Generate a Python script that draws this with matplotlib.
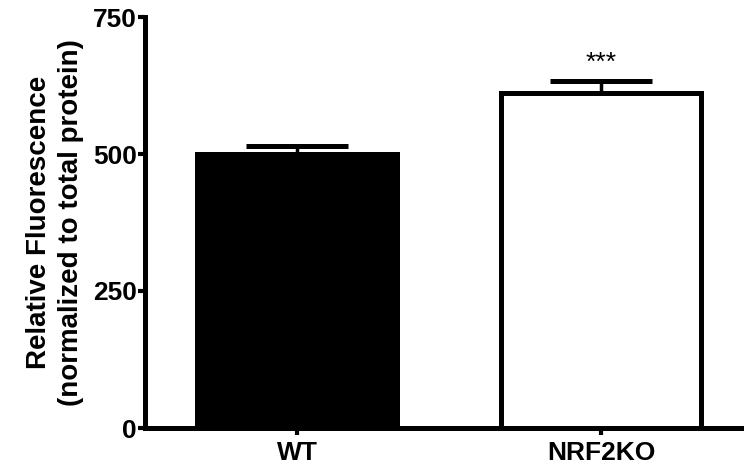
import numpy as np
import matplotlib.pyplot as plt

groups = ['WT', 'NRF2KO']
means = [500, 612]
sem = [14, 21]
colors = ['black', 'white']
yticks = [0, 250, 500, 750]

plt.rcParams['font.family'] = ['Liberation Sans', 'DejaVu Sans']
plt.rcParams['font.weight'] = 'bold'

fig = plt.figure(figsize=(7.44, 4.72), dpi=100)
ax = fig.add_axes([145/744, 44/472, 608/744, 411/472])

x = np.arange(len(groups))
ax.bar(x, means, width=0.66, color=colors, edgecolor='black', linewidth=3.6, zorder=2)
ax.errorbar(x, means, yerr=[[0, 0], sem], fmt='none', ecolor='black',
            elinewidth=2.5, capsize=37, capthick=3.6, zorder=3)
ax.text(x[1], means[1] + sem[1] + 12, '***', ha='center', va='bottom',
        fontsize=19, fontweight='normal')

ax.set_xlim(-0.5, 1.5)
ax.set_ylim(0, 750)
ax.set_yticks(yticks)
ax.set_xticks(x)
ax.set_xticklabels(groups)
ax.set_ylabel('Relative Fluorescence\n(normalized to total protein)', fontsize=20,
              fontweight='bold', labelpad=6, linespacing=1.3)

for s in ['top', 'right']:
    ax.spines[s].set_visible(False)
for s in ['left', 'bottom']:
    ax.spines[s].set_linewidth(3.6)
ax.tick_params(width=3, length=5, labelsize=19, pad=1)
ax.tick_params(axis='x', pad=4)

fig.savefig('out.png', dpi=100)
